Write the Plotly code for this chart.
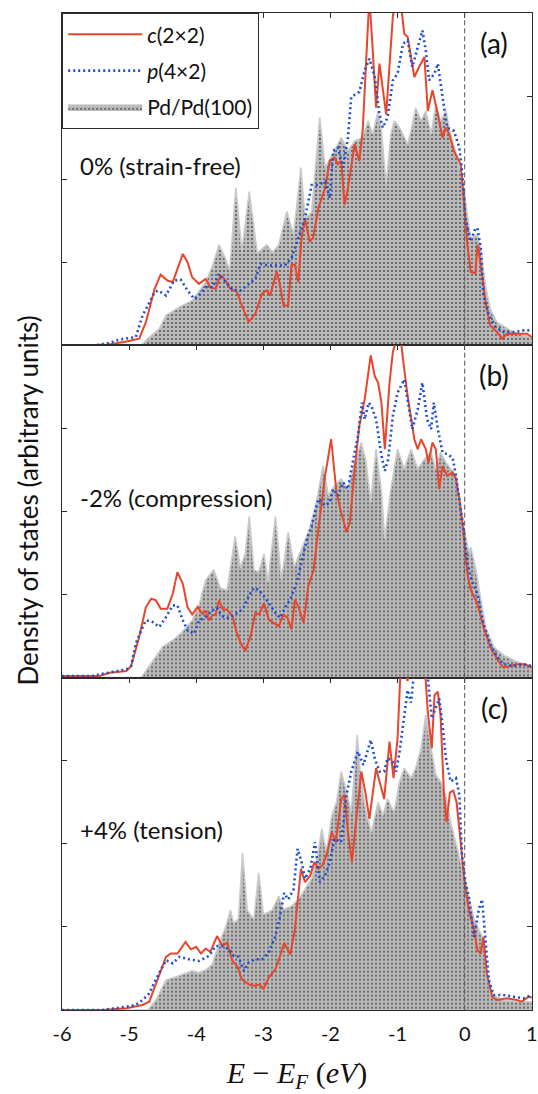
import plotly.graph_objects as go

# ---------------- data ----------------
energy_ticks = [-6, -5, -4, -3, -2, -1, 0, 1]
tick_labels = ["-6", "-5", "-4", "-3", "-2", "-1", "0", "1"]
dos_ticks = [1, 2, 3]
fermi_level = 0.0

series_names = ["<i>c</i>(2×2)", "<i>p</i>(4×2)", "Pd/Pd(100)"]
panel_labels = ["(a)", "(b)", "(c)"]
strain_labels = ["0% (strain-free)", "-2% (compression)", "+4% (tension)"]

# panel (a)
a_c22_E = [-6.0,-5.6,-5.3,-5.04,-4.85,-4.75,-4.62,-4.53,-4.43,-4.35,-4.2,-4.13,-4.06,-3.96,-3.86,-3.79,-3.71,-3.64,-3.58,-3.49,-3.39,-3.34,-3.22,-3.12,-3.02,-2.95,-2.9,-2.8,-2.75,-2.7,-2.63,-2.58,-2.53,-2.48,-2.43,-2.38,-2.31,-2.26,-2.18,-2.08,-2.01,-1.94,-1.89,-1.84,-1.79,-1.74,-1.64,-1.57,-1.52,-1.47,-1.42,-1.37,-1.32,-1.27,-1.17,-1.07,-1.0,-0.95,-0.9,-0.85,-0.75,-0.68,-0.6,-0.55,-0.48,-0.41,-0.33,-0.28,-0.23,-0.16,-0.06,-0.01,0.04,0.09,0.16,0.19,0.24,0.31,0.38,0.48,0.56,0.63,0.78,0.93,1.0]
a_c22_dos = [0,0,0.01,0.045,0.08,0.28,0.68,0.85,0.78,0.76,1.1,1.0,0.82,0.74,0.8,0.7,0.68,0.84,0.8,0.68,0.64,0.52,0.28,0.38,0.62,0.66,0.6,0.89,0.72,0.48,0.48,0.97,0.97,0.76,1.29,1.53,1.25,1.29,1.65,1.89,2.22,2.26,2.18,2.22,1.69,1.89,2.42,2.22,2.58,3.43,4.2,3.55,2.86,3.39,2.78,3.96,4.3,4.1,3.75,3.71,3.23,3.35,3.47,2.82,3.07,2.82,2.5,2.62,2.54,2.34,2.18,1.73,1.21,0.88,0.87,1.21,0.97,0.52,0.24,0.16,0.08,0.14,0.14,0.14,0.1]
a_p42_E = [-6.0,-5.5,-5.29,-5.14,-4.9,-4.8,-4.72,-4.62,-4.57,-4.45,-4.33,-4.23,-4.13,-4.03,-3.96,-3.86,-3.76,-3.66,-3.56,-3.46,-3.34,-3.22,-3.12,-3.04,-2.92,-2.77,-2.68,-2.58,-2.48,-2.38,-2.28,-2.18,-2.08,-2.01,-1.96,-1.89,-1.81,-1.74,-1.69,-1.57,-1.49,-1.42,-1.34,-1.27,-1.22,-1.15,-1.07,-1.0,-0.92,-0.85,-0.78,-0.7,-0.63,-0.58,-0.53,-0.45,-0.4,-0.33,-0.26,-0.16,-0.08,-0.03,0.01,0.09,0.16,0.19,0.24,0.28,0.36,0.46,0.58,0.73,0.88,1.0]
a_p42_dos = [0,0,0.03,0.07,0.1,0.36,0.48,0.64,0.66,0.6,0.78,0.79,0.66,0.56,0.6,0.7,0.7,0.86,0.76,0.67,0.66,0.74,0.8,0.98,0.96,0.96,0.96,1.05,1.29,1.53,1.93,1.93,1.97,1.77,2.34,2.38,2.14,2.5,2.99,3.05,3.31,3.45,3.23,2.78,2.62,2.74,3.19,3.27,3.63,3.67,3.35,3.59,3.79,3.55,3.19,3.27,3.39,2.99,2.62,2.58,2.38,2.02,1.53,1.25,1.41,1.41,1.17,0.6,0.36,0.22,0.16,0.16,0.18,0.18]
a_pd_E = [-6.0,-4.82,-4.72,-4.55,-4.45,-4.25,-4.06,-3.86,-3.76,-3.66,-3.58,-3.5,-3.41,-3.32,-3.21,-3.09,-2.95,-2.86,-2.77,-2.65,-2.55,-2.44,-2.38,-2.28,-2.16,-2.08,-1.94,-1.84,-1.74,-1.64,-1.52,-1.44,-1.37,-1.29,-1.24,-1.17,-1.1,-1.05,-0.97,-0.85,-0.8,-0.73,-0.65,-0.58,-0.5,-0.43,-0.36,-0.28,-0.21,-0.11,-0.04,0.01,0.09,0.19,0.24,0.31,0.38,0.48,0.68,0.88,1.0]
a_pd_dos = [0,0,0.08,0.2,0.36,0.46,0.54,0.76,0.95,1.21,1.07,0.9,1.9,1.13,1.85,1.11,1.21,1.12,1.21,1.61,1.33,2.14,1.53,1.6,2.74,2.14,2.34,2.5,2.34,2.46,2.5,2.7,2.54,2.82,2.58,1.93,2.54,2.7,2.62,2.42,2.58,2.86,2.7,2.82,2.54,2.9,2.7,2.82,2.54,2.26,2.02,1.73,1.29,1.33,1.17,0.72,0.44,0.28,0.18,0.12,0.1]

# panel (b)
b_c22_E = [-6.0,-5.44,-5.29,-5.04,-4.97,-4.85,-4.75,-4.67,-4.6,-4.53,-4.43,-4.35,-4.28,-4.2,-4.13,-4.06,-3.98,-3.91,-3.86,-3.81,-3.76,-3.71,-3.66,-3.6,-3.54,-3.46,-3.4,-3.34,-3.27,-3.19,-3.12,-3.06,-2.99,-2.92,-2.85,-2.77,-2.7,-2.64,-2.58,-2.53,-2.48,-2.4,-2.33,-2.25,-2.18,-2.08,-1.99,-1.91,-1.84,-1.76,-1.71,-1.64,-1.57,-1.49,-1.4,-1.34,-1.29,-1.24,-1.19,-1.12,-1.07,-0.97,-0.92,-0.85,-0.75,-0.7,-0.65,-0.58,-0.54,-0.48,-0.43,-0.38,-0.33,-0.26,-0.18,-0.13,-0.08,-0.04,0.01,0.04,0.09,0.14,0.19,0.28,0.38,0.51,0.58,0.68,0.78,0.9,1.0]
b_c22_dos = [0.02,0.02,0.06,0.08,0.14,0.49,0.85,0.95,0.93,0.83,0.83,1.01,1.27,1.13,0.85,0.76,0.85,0.77,0.8,0.69,0.75,0.76,0.93,0.82,0.82,0.74,0.55,0.42,0.32,0.5,0.78,0.76,0.9,0.7,0.66,0.62,0.76,0.72,0.58,0.94,0.86,0.66,1.1,1.3,1.79,2.43,2.87,2.23,1.99,1.75,1.87,2.51,3.03,3.35,3.88,3.63,3.55,3.31,2.75,3.55,3.92,4.2,3.84,3.39,2.87,2.75,2.87,2.75,2.59,2.83,2.75,2.27,2.55,2.43,2.47,2.39,2.15,1.91,1.51,1.25,1.06,0.98,0.89,0.61,0.37,0.19,0.12,0.14,0.16,0.16,0.12]
b_p42_E = [-6.0,-5.55,-5.44,-5.19,-5.04,-4.97,-4.9,-4.82,-4.75,-4.65,-4.55,-4.45,-4.35,-4.28,-4.2,-4.13,-4.03,-3.96,-3.86,-3.76,-3.69,-3.62,-3.52,-3.44,-3.36,-3.29,-3.22,-3.14,-3.07,-2.99,-2.9,-2.82,-2.75,-2.68,-2.6,-2.5,-2.43,-2.35,-2.28,-2.18,-2.08,-2.01,-1.96,-1.89,-1.81,-1.74,-1.66,-1.59,-1.53,-1.49,-1.43,-1.39,-1.32,-1.24,-1.19,-1.14,-1.07,-1.0,-0.9,-0.85,-0.78,-0.7,-0.63,-0.56,-0.5,-0.46,-0.4,-0.33,-0.26,-0.18,-0.13,-0.06,-0.01,0.04,0.09,0.19,0.28,0.38,0.48,0.58,0.73,0.88,1.0]
b_p42_dos = [0.02,0.02,0.04,0.08,0.1,0.14,0.41,0.57,0.69,0.67,0.61,0.73,0.87,0.87,0.69,0.57,0.53,0.69,0.73,0.81,0.84,0.74,0.72,0.76,0.79,0.85,0.98,1.08,1.06,0.98,0.88,0.78,0.72,0.84,0.94,1.15,1.39,1.67,1.83,2.15,2.07,2.11,2.27,2.19,2.35,2.27,2.63,2.91,3.31,3.11,3.31,3.27,3.11,2.67,2.49,2.63,3.15,3.43,3.59,3.35,2.99,3.23,3.55,3.11,2.99,3.31,2.99,2.71,2.69,2.65,2.43,2.03,1.75,1.39,1.21,1.01,0.65,0.41,0.25,0.16,0.14,0.16,0.14]
b_pd_E = [-6.0,-4.82,-4.75,-4.65,-4.5,-4.35,-4.22,-4.06,-3.96,-3.86,-3.74,-3.64,-3.54,-3.42,-3.34,-3.27,-3.21,-3.14,-3.07,-2.99,-2.93,-2.82,-2.73,-2.63,-2.54,-2.43,-2.31,-2.21,-2.11,-2.03,-1.94,-1.84,-1.74,-1.64,-1.54,-1.47,-1.4,-1.32,-1.24,-1.19,-1.1,-1.0,-0.9,-0.8,-0.7,-0.6,-0.5,-0.43,-0.36,-0.28,-0.21,-0.13,-0.08,-0.01,0.06,0.09,0.16,0.24,0.31,0.43,0.58,0.78,1.0]
b_pd_dos = [0,0,0.08,0.2,0.37,0.45,0.54,0.69,0.87,1.17,1.3,1.08,1.05,1.7,1.32,1.49,1.94,1.3,1.27,1.49,1.15,1.94,1.18,1.75,1.34,1.55,1.79,2.11,2.55,2.19,2.31,2.39,2.27,2.59,2.83,2.59,2.11,2.75,2.23,1.67,2.27,2.75,2.51,2.75,2.51,2.63,2.71,2.51,2.71,2.59,2.51,2.43,2.15,1.79,1.51,1.57,1.33,0.93,0.61,0.37,0.27,0.19,0.14]

# panel (c)
c_c22_E = [-6.0,-5.4,-5.04,-4.8,-4.7,-4.62,-4.55,-4.45,-4.38,-4.28,-4.16,-4.08,-4.0,-3.93,-3.86,-3.79,-3.69,-3.61,-3.54,-3.46,-3.39,-3.32,-3.22,-3.12,-3.05,-3.0,-2.92,-2.82,-2.75,-2.69,-2.6,-2.53,-2.48,-2.44,-2.38,-2.3,-2.24,-2.18,-2.12,-2.06,-1.98,-1.92,-1.84,-1.79,-1.74,-1.68,-1.61,-1.54,-1.48,-1.42,-1.32,-1.24,-1.2,-1.12,-1.06,-1.0,-0.95,-0.85,-0.8,-0.7,-0.6,-0.55,-0.49,-0.45,-0.4,-0.36,-0.31,-0.27,-0.22,-0.17,-0.12,-0.06,-0.01,0.06,0.14,0.19,0.24,0.28,0.33,0.41,0.48,0.63,0.78,0.85,0.95,1.0]
c_c22_dos = [0,0,0.02,0.06,0.1,0.28,0.44,0.64,0.68,0.68,0.82,0.73,0.76,0.68,0.74,0.7,0.89,0.77,0.81,0.59,0.53,0.37,0.31,0.29,0.31,0.25,0.39,0.49,0.65,0.81,0.67,0.97,1.37,1.7,1.54,1.62,1.78,1.7,1.74,1.86,2.14,2.02,2.54,2.59,2.14,1.78,2.34,2.87,2.62,2.3,2.91,2.67,2.54,3.23,2.79,3.27,4.2,3.96,4.3,4.4,4.2,3.59,3.15,3.79,3.83,3.55,2.62,2.26,2.62,2.64,2.5,2.02,1.6,1.21,0.96,0.72,0.68,0.88,0.44,0.16,0.12,0.14,0.12,0.1,0.16,0.15]
c_p42_E = [-6.0,-5.4,-5.04,-4.9,-4.8,-4.7,-4.62,-4.55,-4.45,-4.35,-4.25,-4.11,-3.96,-3.81,-3.71,-3.61,-3.51,-3.44,-3.37,-3.29,-3.22,-3.12,-3.02,-2.92,-2.82,-2.75,-2.69,-2.63,-2.55,-2.49,-2.43,-2.38,-2.3,-2.23,-2.16,-2.08,-2.01,-1.94,-1.84,-1.76,-1.69,-1.59,-1.51,-1.45,-1.4,-1.34,-1.27,-1.2,-1.15,-1.08,-1.02,-0.97,-0.9,-0.85,-0.8,-0.75,-0.65,-0.55,-0.49,-0.43,-0.38,-0.33,-0.28,-0.21,-0.13,-0.08,-0.04,0.01,0.06,0.14,0.21,0.26,0.31,0.36,0.43,0.58,0.73,0.88,1.0]
c_p42_dos = [0,0,0.04,0.06,0.12,0.2,0.34,0.44,0.6,0.56,0.64,0.61,0.59,0.65,0.77,0.77,0.73,0.65,0.64,0.47,0.57,0.61,0.61,0.69,0.89,1.13,1.41,1.33,1.45,1.94,1.78,1.58,1.7,2.02,1.54,1.62,1.78,2.06,2.02,2.59,2.87,3.11,2.95,3.11,3.25,3.03,2.87,2.87,3.03,3.0,2.87,3.11,3.55,3.85,3.7,4.1,4.2,4.0,3.51,3.63,3.75,3.43,3.03,2.75,2.79,2.59,1.86,1.54,1.37,0.88,1.21,1.33,0.8,0.36,0.18,0.18,0.16,0.14,0.18]
c_pd_E = [-6.0,-4.72,-4.6,-4.5,-4.45,-4.3,-4.16,-4.06,-3.96,-3.86,-3.76,-3.66,-3.56,-3.49,-3.44,-3.37,-3.31,-3.24,-3.14,-3.07,-3.0,-2.87,-2.77,-2.7,-2.58,-2.48,-2.38,-2.28,-2.19,-2.13,-2.06,-1.98,-1.91,-1.84,-1.76,-1.69,-1.6,-1.55,-1.47,-1.39,-1.29,-1.22,-1.15,-1.05,-0.97,-0.9,-0.8,-0.73,-0.65,-0.58,-0.5,-0.43,-0.36,-0.28,-0.21,-0.13,-0.06,0.01,0.09,0.14,0.24,0.28,0.33,0.41,0.58,0.83,1.0]
c_pd_dos = [0,0,0.12,0.28,0.36,0.4,0.44,0.47,0.45,0.48,0.55,0.8,1.0,1.2,1.04,1.1,1.89,1.2,1.09,1.65,1.15,1.2,1.37,1.21,1.25,1.33,1.45,1.58,1.86,2.18,1.9,2.34,2.5,2.87,2.62,2.38,3.31,2.79,2.38,2.14,2.5,2.34,2.54,2.38,2.75,2.91,2.79,2.91,3.15,3.55,3.15,2.83,2.75,2.58,2.26,2.02,1.78,1.54,1.25,1.09,0.92,0.84,0.44,0.18,0.12,0.1,0.1]

panels = [
    (a_c22_E, a_c22_dos, a_p42_E, a_p42_dos, a_pd_E, a_pd_dos),
    (b_c22_E, b_c22_dos, b_p42_E, b_p42_dos, b_pd_E, b_pd_dos),
    (c_c22_E, c_c22_dos, c_p42_E, c_p42_dos, c_pd_E, c_pd_dos),
]

# ---------------- styling ----------------
RED = "#e8452c"
BLUE = "#1f4fd0"
AXIS = "#2b2b2b"
FONT = "Lato"
X_RANGE = [-6, 1.003]

fig = go.Figure()

xa_names = ["x", "x2", "x3"]
ya_names = ["y", "y2", "y3"]

for i, (rE, rD, bE, bD, gE, gD) in enumerate(panels):
    xa, ya = xa_names[i], ya_names[i]
    first = (i == 0)
    fig.add_trace(go.Scatter(
        x=gE, y=gD, xaxis=xa, yaxis=ya, mode="lines", fill="tozeroy",
        line=dict(color="#c8cbce", width=1.6),
        fillcolor="#bababa",
        fillpattern=dict(shape=".", fgcolor="#4a4a4a", bgcolor="#bababa",
                         size=4, solidity=0.16, fillmode="replace"),
        name=series_names[2], showlegend=first, legendrank=3,
        legendgroup="pd"))
    fig.add_trace(go.Scatter(
        x=rE, y=rD, xaxis=xa, yaxis=ya, mode="lines",
        line=dict(color=RED, width=2),
        name=series_names[0], showlegend=first, legendrank=1,
        legendgroup="c22"))
    fig.add_trace(go.Scatter(
        x=bE, y=bD, xaxis=xa, yaxis=ya, mode="lines",
        line=dict(color=BLUE, width=2.6, dash="2px,3px"),
        name=series_names[1], showlegend=first, legendrank=2,
        legendgroup="p42"))

# empty helper trace so that the top-tick overlay axis of panel (c) is rendered
fig.add_trace(go.Scatter(x=[], y=[], xaxis="x4", yaxis="y3",
                         showlegend=False, hoverinfo="skip"))

domains = [[2/3, 1.0], [1/3, 2/3], [0.0, 1/3]]

common_x = dict(range=X_RANGE, tickvals=energy_ticks, ticktext=tick_labels,
                showgrid=False, zeroline=False, showline=True,
                linecolor=AXIS, linewidth=1.2, automargin=False)
common_y = dict(range=[0, 4], tickvals=dos_ticks, showticklabels=False,
                ticks="inside", ticklen=5, tickcolor=AXIS, tickwidth=1,
                mirror="ticks", showgrid=False, zeroline=False,
                showline=True, linecolor=AXIS, linewidth=1.2, automargin=False)

layout_axes = {}
for i in range(3):
    xkey = "xaxis" if i == 0 else f"xaxis{i+1}"
    ykey = "yaxis" if i == 0 else f"yaxis{i+1}"
    yname = ya_names[i]
    if i < 2:
        layout_axes[xkey] = dict(common_x, anchor=yname, side="top",
                                 ticks="inside", ticklen=5, tickcolor=AXIS,
                                 showticklabels=False, mirror=True)
    else:
        layout_axes[xkey] = dict(common_x, anchor=yname, side="bottom",
                                 ticks="", showticklabels=True, mirror=True,
                                 ticklabelstandoff=6, ticklabeloverflow="allow",
                                 tickfont=dict(family=FONT, size=20, color="#111"),
                                 title=dict(text="<i>E</i> − <i>E</i><sub><i>F</i></sub> (<i>eV</i>)",
                                            font=dict(family="Liberation Serif", size=30, color="#111"),
                                            standoff=17))
    layout_axes[ykey] = dict(common_y, domain=domains[i], anchor=xa_names[i])

layout_axes["xaxis4"] = dict(range=X_RANGE, tickvals=energy_ticks, overlaying="x3",
                             anchor="y3", side="top", ticks="inside", ticklen=5,
                             tickcolor=AXIS, showticklabels=False, showline=False,
                             showgrid=False, zeroline=False, automargin=False)

fig.update_layout(**layout_axes)

# Fermi level dashed lines and annotations
shapes = []
annotations = []
for i in range(3):
    xa, ya = xa_names[i], ya_names[i]
    shapes.append(dict(type="line", xref=xa, yref=f"{ya} domain",
                       x0=fermi_level, x1=fermi_level, y0=0, y1=1,
                       line=dict(color="#555555", width=1, dash="5px,3px"),
                       layer="above"))
    annotations.append(dict(text=panel_labels[i], xref=f"{xa} domain", yref=f"{ya} domain",
                            x=0.92, y=1 - 30/332, xanchor="center", yanchor="middle",
                            showarrow=False, font=dict(family=FONT, size=28, color="#111")))
    annotations.append(dict(text=strain_labels[i], xref=f"{xa} domain", yref=f"{ya} domain",
                            x=0.035, y=1 - 152/332, xanchor="left", yanchor="middle",
                            showarrow=False, font=dict(family=FONT, size=24, color="#111")))

annotations.append(dict(text="Density of states (arbitrary units)", xref="paper", yref="paper",
                        x=0, xshift=-34, y=0.511, textangle=-90, xanchor="center",
                        yanchor="middle", showarrow=False,
                        font=dict(family=FONT, size=26, color="#111")))

fig.update_layout(
    width=538, height=1094,
    margin=dict(l=62, r=6, t=13, b=84, autoexpand=False),
    paper_bgcolor="white", plot_bgcolor="white",
    shapes=shapes, annotations=annotations,
    showlegend=True,
    legend=dict(x=0, y=1, xref="paper", yref="paper", xanchor="left", yanchor="top",
                bgcolor="white", bordercolor=AXIS, borderwidth=1.2,
                font=dict(family=FONT, size=21, color="#111"),
                itemwidth=74, tracegroupgap=6, traceorder="grouped"),
    font=dict(family=FONT, color="#111"),
)

fig.write_html("out.html")
